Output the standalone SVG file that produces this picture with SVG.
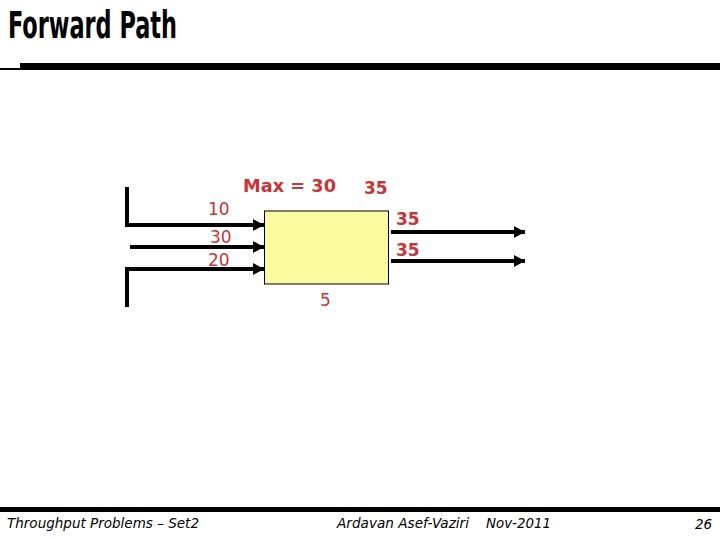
<svg xmlns="http://www.w3.org/2000/svg" width="720" height="540" viewBox="0 0 720 540">
  <defs>
    <marker id="arrow" markerUnits="userSpaceOnUse" markerWidth="14" markerHeight="14" refX="11" refY="6" orient="auto">
      <path d="M0,0 L11,6 L0,12 Z" fill="#000"/>
    </marker>
    <style>
      .lbl { font-family: "DejaVu Sans", Verdana, sans-serif; font-size: 17px; fill: #cc3333; }
      .b { font-weight: bold; }
      .ft { font-family: "DejaVu Sans", Verdana, sans-serif; font-size: 13.5px; font-style: italic; fill: #000; }
      .ln { stroke: #000; stroke-width: 4; fill: none; }
    </style>
  </defs>
  <rect width="720" height="540" fill="#fff"/>
  <g id="header">
    <text x="8" y="38" font-family="'DejaVu Sans Condensed', 'DejaVu Sans', sans-serif" font-weight="bold" font-size="37" textLength="169" lengthAdjust="spacingAndGlyphs">Forward Path</text>
    <rect x="20" y="63" width="700" height="7" fill="#000"/>
    <rect x="0" y="68" width="20" height="2" fill="#000"/>
  </g>
  <g id="connectors">
    <path class="ln" d="M127,187 V225 H264" marker-end="url(#arrow)"/>
    <path class="ln" d="M130,247 H264" marker-end="url(#arrow)"/>
    <path class="ln" d="M127,307 V269 H264" marker-end="url(#arrow)"/>
    <path class="ln" d="M391,232 H525" marker-end="url(#arrow)"/>
    <path class="ln" d="M391,261 H525" marker-end="url(#arrow)"/>
  </g>
  <g id="node-box">
    <rect x="264.5" y="211" width="124" height="73" fill="#fafa9e" stroke="#000" stroke-width="1"/>
  </g>
  <g id="labels">
    <text class="lbl b" x="243" y="192" textLength="93" lengthAdjust="spacingAndGlyphs">Max = 30</text>
    <text class="lbl b" x="364" y="194">35</text>
    <text class="lbl b" x="396" y="225">35</text>
    <text class="lbl b" x="396" y="256">35</text>
    <text class="lbl" x="208" y="215">10</text>
    <text class="lbl" x="210" y="243">30</text>
    <text class="lbl" x="208" y="266">20</text>
    <text class="lbl" x="320" y="306">5</text>
  </g>
  <g id="footer">
    <rect x="0" y="507" width="720" height="5" fill="#000"/>
    <text class="ft" x="7" y="528" textLength="192" lengthAdjust="spacingAndGlyphs">Throughput Problems – Set2</text>
    <text class="ft" x="337" y="528" textLength="132" lengthAdjust="spacingAndGlyphs">Ardavan Asef-Vaziri</text>
    <text class="ft" x="486" y="528" textLength="65" lengthAdjust="spacingAndGlyphs">Nov-2011</text>
    <text class="ft" x="695" y="529">26</text>
  </g>
</svg>
